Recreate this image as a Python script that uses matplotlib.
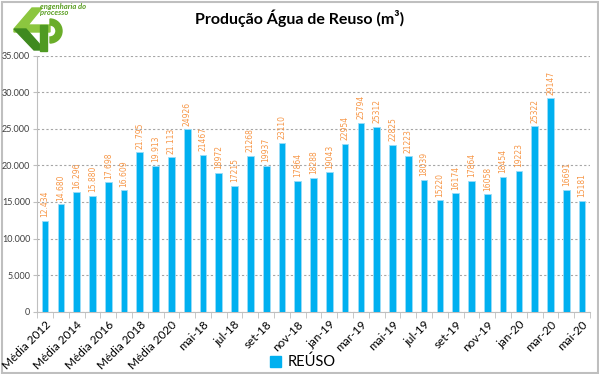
import matplotlib
matplotlib.use("Agg")
import matplotlib.pyplot as plt
from matplotlib.patches import Rectangle, Polygon, Wedge
from matplotlib.ticker import FuncFormatter, FixedLocator
import numpy as np

plt.rcParams['font.family'] = ['Lato', 'DejaVu Sans']

# categorias (35 barras)
categorias = ["Média 2012", "Média 2013", "Média 2014", "Média 2015", "Média 2016",
              "Média 2017", "Média 2018", "Média 2019", "Média 2020",
              "abr-18", "mai-18", "jun-18", "jul-18", "ago-18", "set-18", "out-18",
              "nov-18", "dez-18", "jan-19", "fev-19", "mar-19", "abr-19", "mai-19",
              "jun-19", "jul-19", "ago-19", "set-19", "out-19", "nov-19", "dez-19",
              "jan-20", "fev-20", "mar-20", "abr-20", "mai-20"]
reuso = [12434, 14680, 16296, 15880, 17698, 16609, 21795, 19913, 21113,
         24926, 21467, 18972, 17215, 21268, 19937, 23110, 17864, 18288,
         19043, 22954, 25794, 25312, 22825, 21223, 18039, 15220, 16174,
         17864, 16058, 18454, 19223, 25322, 29147, 16691, 15181]
n_medias = 9

fig = plt.figure(figsize=(5.99, 3.74), dpi=100)

# camada de fundo em pixels para moldura e logo
bg = fig.add_axes([0, 0, 1, 1], zorder=-1)
bg.set_xlim(0, 599)
bg.set_ylim(374, 0)
bg.axis('off')
bg.add_patch(Rectangle((1.5, 1.5), 596, 371, fill=False, edgecolor='#bfbfbf', lw=1.5))

# logo simplificado
bg.add_patch(Polygon([(14, 29), (32, 8), (42, 8), (28, 25), (50, 25), (50, 32), (14, 32)],
                     closed=True, color='#8cc63f'))
bg.add_patch(Polygon([(14, 29), (26, 29), (42, 47), (42, 50), (34, 50)],
                     closed=True, color='#3f8a1f'))
bg.add_patch(Rectangle((40, 25), 7, 26, color='#4f9a22'))
bg.add_patch(Wedge((50, 31), 12, -90, 90, width=6, color='#6aad29'))
bg.text(40, 3, "engenharia do\nprocesso", ha='left', va='top', fontsize=5.5,
        style='italic', fontweight='bold', color='#5a9e22', linespacing=0.9)

ax = fig.add_axes([0.062, 0.1666, 0.923, 0.6845])
x = np.arange(len(reuso))
bars = ax.bar(x, reuso, width=0.42, color='#00b0f0', edgecolor='#9bdcf7', lw=0.6, zorder=3)

# rotulos das barras
for i, b in enumerate(bars):
    v = reuso[i]
    txt = f"{v:,}".replace(",", ".") if i < n_medias else str(v)
    ax.text(b.get_x() + b.get_width() / 2, v + 500, txt, rotation=90, ha='center',
            va='bottom', fontsize=5.5, color='#f79646', family='DejaVu Sans')

ax.set_xlim(-0.5, len(reuso) - 0.5)
ax.set_ylim(0, 35000)
ax.set_yticks(np.arange(0, 35001, 5000))
ax.yaxis.set_major_formatter(FuncFormatter(lambda v, p: f"{int(v):,}".replace(",", ".")))
ax.tick_params(axis='y', labelsize=6.5, labelcolor='#404040', length=3, color='#bfbfbf',
               pad=2)
ax.grid(axis='y', linestyle=(0, (2, 2)), color='#a6a6a6', lw=0.8, zorder=0)

ax.set_xticks(x[::2])
ax.set_xticklabels(categorias[::2], rotation=45, ha='right', rotation_mode='anchor',
                   fontsize=8.5)
ax.tick_params(axis='x', which='major', length=0, pad=5)
ax.xaxis.set_minor_locator(FixedLocator(np.arange(-0.5, len(reuso), 1)))
ax.tick_params(axis='x', which='minor', length=4, color='#bfbfbf')

for s in ['top', 'right']:
    ax.spines[s].set_visible(False)
ax.spines['left'].set_color('#bfbfbf')
ax.spines['bottom'].set_color('#bfbfbf')

fig.text(0.5, 0.952, "Produção Água de Reuso (m³)", ha='center', va='center',
         fontsize=11.5, fontweight='bold')

fig.legend([Rectangle((0, 0), 1, 1, color='#00b0f0')], ["REÚSO"], loc='center',
           bbox_to_anchor=(0.505, 0.032), frameon=False, fontsize=10.5,
           handlelength=0.8, handleheight=0.8, handletextpad=0.4)

fig.savefig("out.png", dpi=100)
